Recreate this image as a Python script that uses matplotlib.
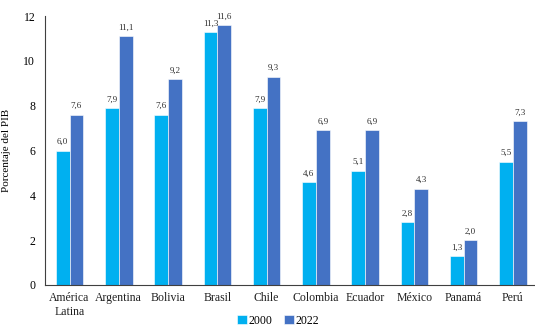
import matplotlib.pyplot as plt
import numpy as np

plt.rcParams['font.family'] = ['Liberation Serif', 'DejaVu Serif']

countries = ['América\nLatina', 'Argentina', 'Bolivia', 'Brasil', 'Chile',
             'Colombia', 'Ecuador', 'México', 'Panamá', 'Perú']
vals_2000 = [6.0, 7.9, 7.6, 11.3, 7.9, 4.6, 5.1, 2.8, 1.3, 5.5]
vals_2022 = [7.6, 11.1, 9.2, 11.6, 9.3, 6.9, 6.9, 4.3, 2.0, 7.3]

fig = plt.figure(figsize=(5.35, 3.29), dpi=100)
ax = fig.add_axes([0.084, 0.134, 0.916, 0.817])

x = np.arange(len(countries))
w = 0.28
b1 = ax.bar(x - w / 2, vals_2000, w, color='#00B0F0', edgecolor='white', linewidth=0.4, label='2000')
b2 = ax.bar(x + w / 2, vals_2022, w, color='#4472C4', edgecolor='white', linewidth=0.4, label='2022')

for bars, vals in ((b1, vals_2000), (b2, vals_2022)):
    for rect, v in zip(bars, vals):
        ax.text(rect.get_x() + rect.get_width() / 2, v + 0.2, f'{v:.1f}'.replace('.', ','),
                ha='center', va='bottom', fontsize=6.5, color='#303030')

ax.set_ylim(0, 12)
ax.set_xlim(-0.5, 9.45)
ax.set_yticks(range(0, 13, 2))
ax.set_xticks(x)
ax.set_xticklabels(countries, fontsize=8.5)
ax.tick_params(axis='y', labelsize=8.5, length=0, pad=7)
ax.tick_params(axis='x', length=0, pad=5, colors='#202020')
ax.set_ylabel('Porcentaje del PIB', fontsize=8, labelpad=9)
for s in ('top', 'right'):
    ax.spines[s].set_visible(False)
ax.spines['left'].set_color('#404040')
ax.spines['bottom'].set_color('#404040')

fig.legend(loc='lower center', bbox_to_anchor=(0.52, -0.025), ncol=2, frameon=False,
           fontsize=8.5, handlelength=0.8, handleheight=0.8, handletextpad=0.15, columnspacing=1.0)

fig.savefig('out.png', dpi=100)
